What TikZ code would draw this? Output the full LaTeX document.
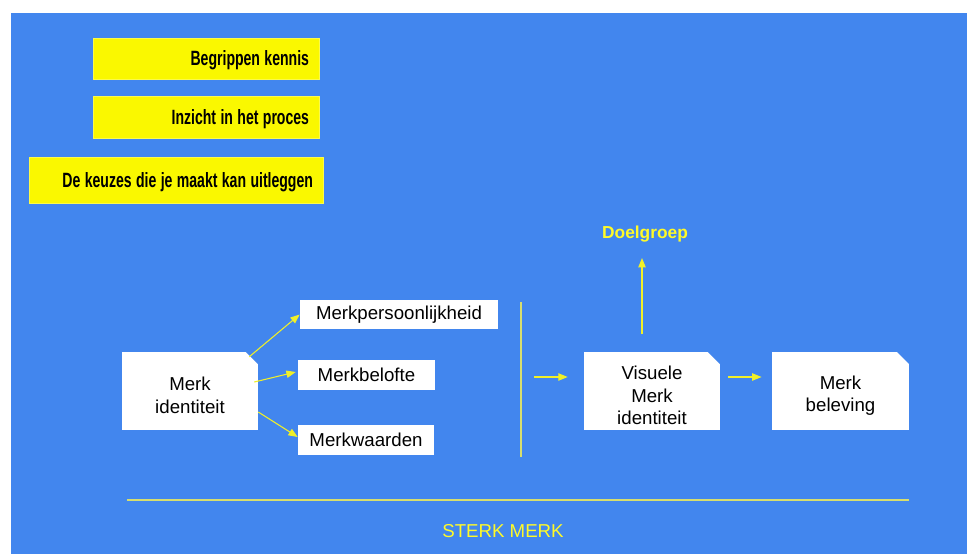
\documentclass[tikz,border=0pt]{standalone}
\usepackage{fontspec}
\setmainfont{Liberation Sans}
\newfontfamily\condfont{Liberation Sans}[FakeStretch=0.68]
\usetikzlibrary{arrows.meta,calc}
\definecolor{bgblue}{RGB}{66,134,238}
\definecolor{boxyellow}{RGB}{250,248,0}
\definecolor{arryellow}{RGB}{240,240,40}
\definecolor{lineyellow}{RGB}{215,222,110}
\definecolor{txtyellow}{RGB}{255,250,40}
\newcommand\lowr{\rule{0pt}{17pt}}
\newcommand\condsel{\condfont\bfseries\fontsize{15.5}{18}\selectfont\fontdimen2\font=3.3pt\fontdimen3\font=0pt\fontdimen4\font=0pt}
\newcommand\rtext[2]{\makebox[#1][r]{\raisebox{-1.5pt}[\height][\depth]{#2}}}
\newcommand\snip[1]{\fill[bgblue] ([xshift=-9.5pt]#1.north east) -- ([xshift=0.5pt,yshift=0.5pt]#1.north east) -- ([yshift=-9.5pt]#1.north east) -- cycle;}
\tikzset{
  ybox/.style={fill=boxyellow, draw=boxyellow!70!white, line width=0.5pt,
    font=\condsel, inner xsep=0pt, inner ysep=0pt, text=black},
  wbox/.style={fill=white, inner sep=0pt, font=\fontsize{14}{17}\selectfont, align=center, text=black},
  cbox/.style={wbox, minimum width=102pt, minimum height=58.5pt},
  arr/.style={draw=arryellow, line width=0.8pt, -{Triangle[length=7pt,width=5.5pt]}},
  rule/.style={draw=lineyellow, line width=1pt},
  ylabel/.style={text=txtyellow, font=\fontsize{14}{17}\selectfont}
}
\begin{document}
\begin{tikzpicture}[x=0.75pt,y=-0.75pt]
\useasboundingbox (0,0) rectangle (967,554);
\fill[white] (0,0) rectangle (967,554);
\fill[bgblue] (11,13) rectangle (967,554);

% yellow boxes
\node[ybox, minimum width=226*0.75pt, minimum height=41*0.75pt] (y1) at (206,58.5) {\rtext{154.5pt}{Begrippen kennis}};
\node[ybox, minimum width=226*0.75pt, minimum height=42*0.75pt] (y2) at (206,117) {\rtext{154.5pt}{Inzicht in het proces}};
\node[ybox, minimum width=294*0.75pt, minimum height=46*0.75pt] (y3) at (176,180) {\rtext{205.5pt}{De keuzes die je maakt kan uitleggen}};

% main boxes
\node[cbox] (mi) at (190,391) {\lowr Merk\\identiteit};
\snip{mi}
\node[wbox, minimum width=198*0.75pt, minimum height=29*0.75pt] (mp) at (399,314.5) {Merkpersoonlijkheid};
\node[wbox, minimum width=137*0.75pt, minimum height=30*0.75pt] (mb) at (366.5,375) {Merkbelofte};
\node[wbox, minimum width=136*0.75pt, minimum height=30*0.75pt] (mw) at (366,440) {Merkwaarden};
\node[cbox] (vmi) at (652,391) {\lowr Visuele\\Merk\\identiteit};
\snip{vmi}
\node[cbox, minimum width=103pt] (mbl) at (840.5,391) {\lowr Merk\\beleving};
\snip{mbl}

\node[ylabel, font=\bfseries\fontsize{13}{16}\selectfont] (doel) at (645,234.5) {Doelgroep};
\node[ylabel] (sterk) at (503,531) {STERK MERK};

% connectors
\draw[arr] ($(mi.north east)+(-9,5)$) -- (mp.west);
\draw[arr] ($(mi.east)+(-4,-9)$) -- ($(mb.west)+(-2,-3)$);
\draw[arr] ($(mi.east)+(0,21)$) -- ($(mw.west)+(0,-3)$);

\coordinate (v1) at (521,302);
\coordinate (v2) at (521,457);
\draw[rule] (v1) -- (v2);

\coordinate (ain) at (534,377);
\draw[arr] (ain) -- ($(vmi.west |- ain)+(-16,0)$);
\draw[arr] ($(vmi.east)+(8,-14)$) -- ($(mbl.west)+(-10,-14)$);

\coordinate (up1) at (642,334);
\draw[arr] (up1) -- (up1 |- 0,258);

\coordinate (h1) at (127,500);
\coordinate (h2) at (909,500);
\draw[rule] (h1) -- (h2);
\end{tikzpicture}
\end{document}
